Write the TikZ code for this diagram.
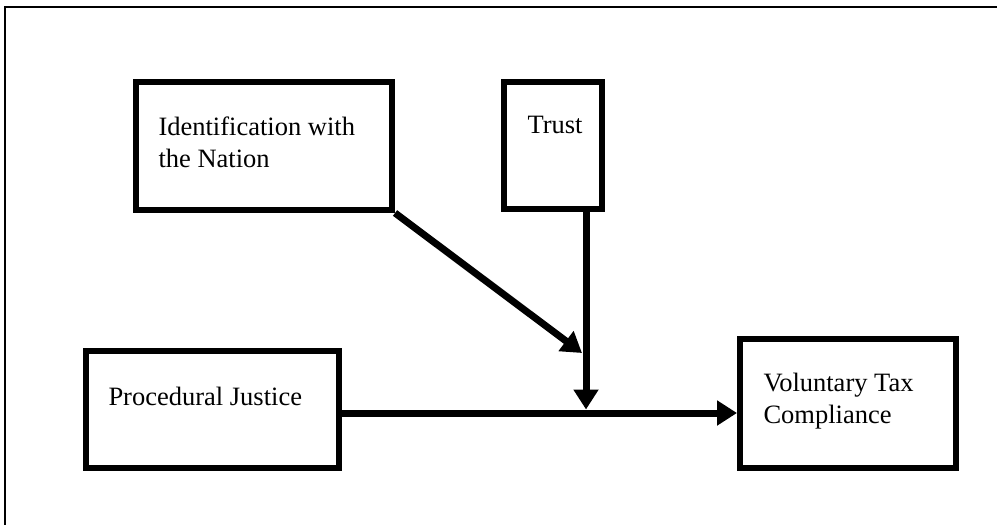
\documentclass[tikz,border=0pt]{standalone}
\usepackage{fontspec}
\setmainfont{Liberation Serif}
\usetikzlibrary{arrows.meta, calc}

\begin{document}
\begin{tikzpicture}[x=0.4pt, y=-0.4pt,
    box/.style={draw, line width=2.4pt, rectangle, inner sep=0pt},
    lbl/.style={anchor=base west, align=left, inner sep=0pt,
                font=\fontsize{10.6}{12.8}\selectfont},
    arr/.style={line width=2.8pt, -{Triangle[length=8pt, width=9.6pt]}}]
  \useasboundingbox (0,0) rectangle (997,525);
  % frame (only top and left edge show)
  \draw[line width=0.8pt] (5,525) -- (5,7.5) -- (997,7.5);

  % ---- boxes ----
  \node[box, minimum width=102.4pt, minimum height=51.2pt] (ident) at (264,146) {};
  \node[box, minimum width=39.2pt, minimum height=50.8pt] (trust) at (553,145.5) {};
  \node[box, minimum width=101.2pt, minimum height=46.8pt] (proc) at (212.5,409.5) {};
  \node[box, minimum width=86.4pt, minimum height=51.6pt] (vol) at (848,403.5) {};

  % ---- labels (base = last line) ----
  \node[lbl] (identtxt) at (158,168) {Identification with\\the Nation};
  \node[lbl] (trusttxt) at (527,134) {Trust};
  \node[lbl] (proctxt) at (108,405) {Procedural Justice};
  \node[lbl] (voltxt) at (763,423) {Voluntary Tax\\Compliance};

  % ---- paths ----
  \coordinate (flow) at (0,413);
  \coordinate (mod) at (586,409.5);
  \coordinate (hit) at (582,353);
  \draw[arr] (proc.east |- flow) -- (vol.west |- flow);
  \draw[arr] (trust.south -| mod) -- (mod);
  \draw[arr] (ident.south east) -- (hit);
\end{tikzpicture}
\end{document}
